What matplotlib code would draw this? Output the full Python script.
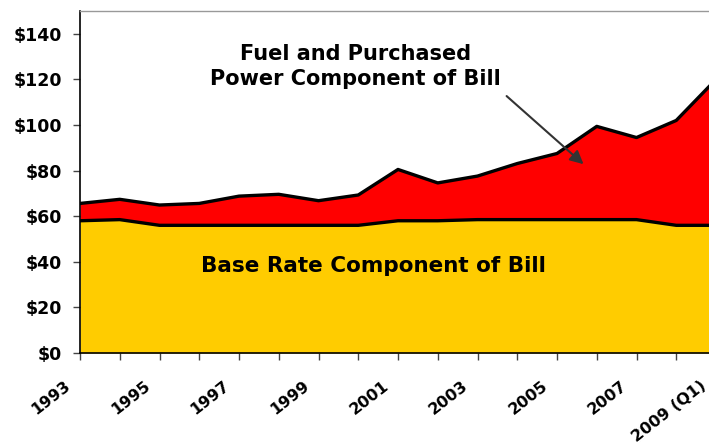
import matplotlib.pyplot as plt
from matplotlib.transforms import ScaledTranslation

plt.rcParams['font.family'] = ['DejaVu Sans']
plt.rcParams['font.weight'] = 'bold'

years = ["1993", "1994", "1995", "1996", "1997", "1998", "1999", "2000", "2001",
         "2002", "2003", "2004", "2005", "2006", "2007", "2008", "2009 (Q1)"]
base_rate = [58, 58.5, 56, 56, 56, 56, 56, 56, 58, 58, 58.5, 58.5, 58.5, 58.5, 58.5, 56, 56]
total_bill = [65.6, 67.4, 64.9, 65.6, 68.8, 69.6, 66.8, 69.3, 80.5, 74.6, 77.6,
              83.1, 87.5, 99.4, 94.5, 102, 120]
yticks = [0, 20, 40, 60, 80, 100, 120, 140]

x = list(range(len(years)))

fig = plt.figure(figsize=(7.09, 4.48), dpi=100)
# right end of axes sits slightly past the figure edge, as in the cropped original
ax = fig.add_axes([80 / 709, 95 / 448, (716 - 80) / 709, (353 - 11) / 448])

ax.fill_between(x, 0, base_rate, color="#FFCC00", linewidth=0)
ax.fill_between(x, base_rate, total_bill, color="#FF0000", linewidth=0)
ax.plot(x, base_rate, color="black", linewidth=2.4)
ax.plot(x, total_bill, color="black", linewidth=2.4)

ax.set_xlim(0, 16)
ax.set_ylim(0, 150)
ax.set_yticks(yticks)
ax.set_yticklabels([f"${v}" for v in yticks], fontsize=12.5, fontweight="bold")
ax.set_xticks(x)
ax.set_xticklabels([y if i % 2 == 0 else "" for i, y in enumerate(years)],
                   rotation=38, ha="right", va="top", rotation_mode="anchor",
                   fontsize=11.5, fontweight="bold")
ax.tick_params(axis="both", direction="out", length=5, width=1, color="#444444")
ax.tick_params(axis="y", pad=8)
ax.tick_params(axis="x", pad=13)
shift = ScaledTranslation(-0.16, 0, fig.dpi_scale_trans)
for lab in ax.get_xticklabels():
    lab.set_transform(lab.get_transform() + shift)

for side in ["left", "bottom"]:
    ax.spines[side].set_color("black")
    ax.spines[side].set_linewidth(1.2)
ax.spines["top"].set_color("#999999")
ax.spines["top"].set_linewidth(1)
ax.spines["right"].set_visible(False)

ax.text(6.92, 125.6, "Fuel and Purchased\nPower Component of Bill", ha="center", va="center",
        fontsize=15, fontweight="bold", linespacing=1.3)
ax.text(7.37, 38.1, "Base Rate Component of Bill", ha="center", va="center",
        fontsize=15.5, fontweight="bold")
ax.annotate("", xy=(12.72, 82), xytext=(10.68, 113.5),
            arrowprops=dict(arrowstyle="-|>", color="#333333", lw=1.5, mutation_scale=20))

fig.savefig("out.png", dpi=100)
